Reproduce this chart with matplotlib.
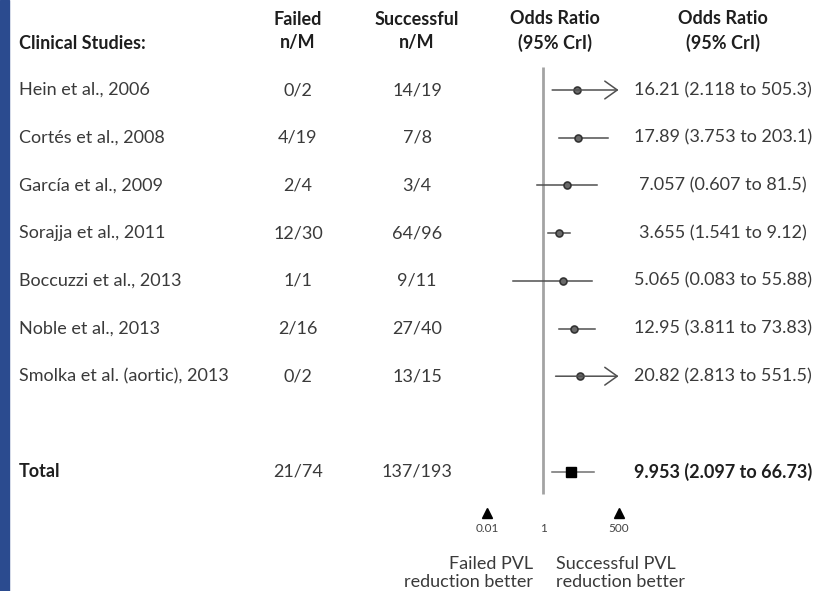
import matplotlib
matplotlib.use("Agg")
import matplotlib.pyplot as plt
from matplotlib.patches import Rectangle

plt.rcParams['font.family'] = ['Lato', 'DejaVu Sans']

# data
studies = ["Hein et al., 2006", "Cortés et al., 2008", "García et al., 2009",
           "Sorajja et al., 2011", "Boccuzzi et al., 2013", "Noble et al., 2013",
           "Smolka et al. (aortic), 2013"]
failed = ["0/2", "4/19", "2/4", "12/30", "1/1", "2/16", "0/2"]
success = ["14/19", "7/8", "3/4", "64/96", "9/11", "27/40", "13/15"]
or_est = [16.21, 17.89, 7.057, 3.655, 5.065, 12.95, 20.82]
or_lo = [2.118, 3.753, 0.607, 1.541, 0.083, 3.811, 2.813]
or_hi = [505.3, 203.1, 81.5, 9.12, 55.88, 73.83, 551.5]

total_failed = "21/74"
total_success = "137/193"
total_est, total_lo, total_hi = 9.953, 2.097, 66.73

axis_ticks = [0.01, 1, 500]
axis_labels = ["0.01", "1", "500"]
xmin, xmax = 0.01, 500

W, H = 827, 591
fig = plt.figure(figsize=(W / 100, H / 100), dpi=100)

# row units: row 0 at y=90px, 47.7 px per row
row_h = 47.7
y_top = -90 / row_h
y_bot = (H - 90) / row_h

tax = fig.add_axes([0, 0, 1, 1])
tax.set_xlim(0, W)
tax.set_ylim(y_bot, y_top)
tax.axis('off')

ax = fig.add_axes([487 / W, 0, 131.6 / W, 1])
ax.set_xscale('log')
ax.set_xlim(xmin, xmax)
ax.set_ylim(y_bot, y_top)
ax.axis('off')

# blue strip on the left edge
tax.add_patch(Rectangle((0, y_top), 8.5, y_bot - y_top, color='#2b4b8f', zorder=0))

txt = '#3a3a3a'
hdr = '#1e1e1e'
fs = 13

# headers
tax.text(19, -0.98, "Clinical Studies:", fontsize=fs, fontweight='bold', color=hdr, va='center')
tax.text(298, -1.23, "Failed\nn/M", fontsize=fs, fontweight='bold', color=hdr, va='center',
         ha='center', linespacing=1.45)
tax.text(417, -1.23, "Successful\nn/M", fontsize=fs, fontweight='bold', color=hdr, va='center',
         ha='center', linespacing=1.45)
tax.text(555, -1.23, "Odds Ratio\n(95% CrI)", fontsize=fs, fontweight='bold', color=hdr,
         va='center', ha='center', linespacing=1.45)
tax.text(723, -1.23, "Odds Ratio\n(95% CrI)", fontsize=fs, fontweight='bold', color=hdr,
         va='center', ha='center', linespacing=1.45)

# reference line at OR = 1
ax.vlines(1, -0.48, 8.47, color='#a3a3a3', lw=2)

ci_col = '#505050'
for i, name in enumerate(studies):
    tax.text(19, i, name, fontsize=fs, color=txt, va='center')
    tax.text(298, i, failed[i], fontsize=fs, color=txt, va='center', ha='center')
    tax.text(417, i, success[i], fontsize=fs, color=txt, va='center', ha='center')
    tax.text(723, i, f"{or_est[i]} ({or_lo[i]} to {or_hi[i]})", fontsize=fs, color=txt,
             va='center', ha='center')
    if or_hi[i] > xmax:
        ax.annotate("", xy=(xmax, i), xytext=(or_lo[i], i),
                    arrowprops=dict(arrowstyle='->,head_length=0.45,head_width=0.32',
                                    mutation_scale=20, lw=1.1, color=ci_col,
                                    shrinkA=0, shrinkB=0),
                    annotation_clip=False)
    else:
        ax.plot([or_lo[i], or_hi[i]], [i, i], color=ci_col, lw=1.1, clip_on=False)
    ax.plot(or_est[i], i, 'o', ms=5, mfc='#6a6a6a', mec='#333333', mew=1.2, clip_on=False)

# total row
tr = 8
tax.text(19, tr, "Total", fontsize=fs, fontweight='bold', color=hdr, va='center')
tax.text(298, tr, total_failed, fontsize=fs, color=txt, va='center', ha='center')
tax.text(417, tr, total_success, fontsize=fs, color=txt, va='center', ha='center')
tax.text(723, tr, f"{total_est} ({total_lo} to {total_hi})", fontsize=fs, fontweight='bold',
         color=hdr, va='center', ha='center')
ax.plot([total_lo, total_hi], [tr, tr], color='#707070', lw=1.1, clip_on=False)
ax.plot(total_est, tr, 's', ms=7, color='black', clip_on=False)

# axis markers
ax.plot([axis_ticks[0], axis_ticks[-1]], [8.87, 8.87], '^', ms=7, color='black',
        ls='none', clip_on=False)
for t, lab in zip(axis_ticks, axis_labels):
    ax.text(t, 9.2, lab, fontsize=8.5, color='#444444', ha='center', va='center')

tax.text(533, 10.12, "Failed PVL\nreduction better", fontsize=fs, color=txt, ha='right',
         va='center', multialignment='right', linespacing=1.17)
tax.text(556, 10.12, "Successful PVL\nreduction better", fontsize=fs, color=txt, ha='left',
         va='center', multialignment='left', linespacing=1.17)

fig.savefig("out.png", dpi=100)
